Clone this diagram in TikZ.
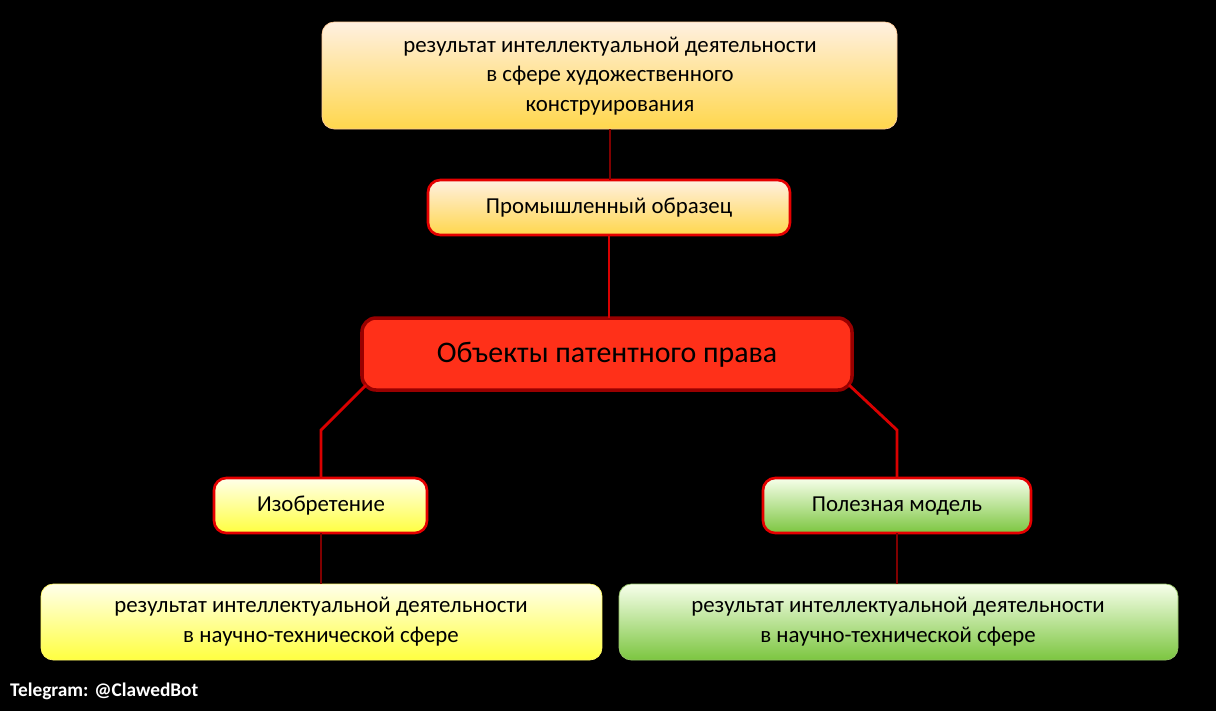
\documentclass[tikz,border=0pt]{standalone}
\usepackage{fontspec}
\setmainfont{Carlito}
\begin{document}
\begin{tikzpicture}[x=0.02cm,y=-0.02cm,
  txt/.style={font=\fontsize{13}{17}\selectfont,align=center,text=black},
  orng/.style={rounded corners=7pt,top color=orange!12,bottom color=orange!45!yellow!70!white,draw=orange!40},
  yel/.style={rounded corners=7pt,top color=yellow!8,bottom color=yellow!75,draw=yellow!60},
  grn/.style={rounded corners=7pt,top color=green!40!yellow!8,bottom color=green!55!yellow!70!black!75,draw=green!50!yellow!60!black!60},
  redb/.style={draw=red!90!black,line width=1.5pt},
  link/.style={draw=red!85!black,line width=1.6pt},
  thin/.style={draw=red!50!black,line width=0.7pt}]
\fill[black] (0,0) rectangle (1216,711);
\path[use as bounding box] (0,0) rectangle (1216,711);
\path[orng] (322,22) rectangle (897,129);
\node[txt] (top) at (610,76) {результат интеллектуальной деятельности\\в сфере художественного\\конструирования};
\path[orng,redb] (428,180) rectangle (790,235);
\node[txt] (prom) at (609,208) {Промышленный образец};
\path[rounded corners=8pt,fill=red!80!orange!90!white,draw=red!60!black,line width=2pt] (362,318) rectangle (852,390);
\node[font=\fontsize{17}{20}\selectfont,text=black] (obj) at (607,355) {Объекты патентного права};
\path[yel,redb] (214,478) rectangle (427,533);
\node[txt] (izo) at (321,506) {Изобретение};
\path[grn,redb] (763,478) rectangle (1031,533);
\node[txt] (pol) at (897,506) {Полезная модель};
\path[yel] (41,584) rectangle (602,660);
\node[txt] (bl) at (321,622) {результат интеллектуальной деятельности\\в научно-технической сфере};
\path[grn] (619,584) rectangle (1178,660);
\node[txt] (br) at (898,622) {результат интеллектуальной деятельности\\в научно-технической сфере};
\coordinate (tb) at (610,129); \coordinate (pt) at (610,180);
\coordinate (pb) at (609,235); \coordinate (ot) at (609,318);
\draw[thin] (tb) -- (pt);
\draw[link] (pb) -- (ot);
\coordinate (ol) at (366,385); \coordinate (orr) at (849,385);
\draw[link] (ol) -- (321,430) -- (321,478);
\draw[link] (orr) -- (897,430) -- (897,478);
\draw[thin] (321,533) -- (321,584);
\draw[thin] (897,533) -- (897,584);
\node[anchor=west,text=white,font=\bfseries\fontsize{11}{13}\selectfont] (tg) at (4,691) {Telegram: @ClawedBot};
\end{tikzpicture}
\end{document}
